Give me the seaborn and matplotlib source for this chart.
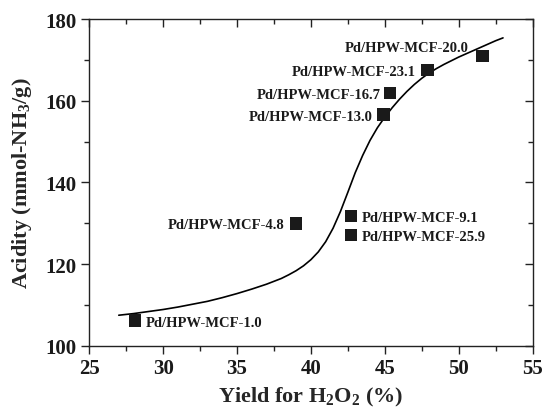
import matplotlib
matplotlib.use("Agg")
import matplotlib.pyplot as plt
import seaborn as sns
import pandas as pd
from matplotlib.ticker import MultipleLocator
from matplotlib.lines import TICKDOWN, TICKLEFT

# Catalyst samples: H2O2 yield (%) and acidity (mmol-NH3/g)
samples = ["Pd/HPW-MCF-1.0", "Pd/HPW-MCF-4.8", "Pd/HPW-MCF-9.1", "Pd/HPW-MCF-25.9",
           "Pd/HPW-MCF-13.0", "Pd/HPW-MCF-16.7", "Pd/HPW-MCF-23.1", "Pd/HPW-MCF-20.0"]
yield_h2o2 = [28.1, 39.0, 42.7, 42.7, 44.9, 45.35, 47.9, 51.6]
acidity = [106.2, 130.0, 131.8, 127.1, 156.6, 161.9, 167.6, 170.9]

# Trend curve through the data
curve_x = [27.0, 28.0, 29.0, 30.0, 31.0, 32.0, 33.0, 34.0, 35.0, 36.0, 37.0,
           37.5, 38.0, 38.5, 39.0, 39.5, 40.0, 40.5, 41.0, 41.5, 42.0, 42.5,
           43.0, 43.5, 44.0, 44.5, 45.0, 45.5, 46.0, 46.5, 47.0, 47.5, 48.0,
           48.5, 49.0, 49.5, 50.0, 50.5, 51.0, 51.5, 52.0, 52.5, 53.0]
curve_y = [107.5, 107.9, 108.4, 108.9, 109.5, 110.2, 110.9, 111.8, 112.8, 113.9, 115.1,
           115.8, 116.5, 117.4, 118.4, 119.6, 121.1, 123.0, 125.5, 128.8, 132.9, 137.6,
           142.4, 146.6, 150.3, 153.4, 156.0, 158.3, 160.4, 162.3, 164.0, 165.5, 166.8,
           167.9, 168.9, 169.8, 170.7, 171.5, 172.3, 173.1, 173.9, 174.7, 175.4]

# Label placement (pixel offsets from marker centre, alignment)
label_dx = [11, -12, 11, 11, -11, -9.5, -12, -14]
label_dy = [0, 0, 0, 0, 0, 0, 0, 10]
label_ha = ["left", "right", "left", "left", "right", "right", "right", "right"]

sns.set_theme(style="ticks")
plt.rcParams["font.family"] = ["Liberation Serif", "DejaVu Serif"]
plt.rcParams["font.weight"] = "bold"
plt.rcParams["mathtext.fontset"] = "custom"
plt.rcParams["mathtext.rm"] = "Liberation Serif:bold"
plt.rcParams["mathtext.bf"] = "Liberation Serif:bold"
plt.rcParams["mathtext.default"] = "bf"

points = pd.DataFrame({"yield": yield_h2o2, "acidity": acidity, "sample": samples})
trend = pd.DataFrame({"x": curve_x, "y": curve_y})

fig = plt.figure(figsize=(5.44, 4.10), dpi=100)
ax = fig.add_axes([0.164, 0.154, 0.815, 0.797])

sns.lineplot(data=trend, x="x", y="y", sort=False, estimator=None,
             color="black", linewidth=1.2, ax=ax)
ax.lines[-1].set_solid_joinstyle("round")
sns.scatterplot(data=points, x="yield", y="acidity", marker="s", s=80,
                color="#1a1a1a", edgecolor="none", ax=ax, zorder=3)

for xv, yv, name, dx, dy, ha in zip(yield_h2o2, acidity, samples,
                                    label_dx, label_dy, label_ha):
    ax.annotate(name, (xv, yv), xytext=(dx, dy), textcoords="offset pixels",
                ha=ha, va="center_baseline", fontsize=10.5, fontweight="bold",
                color="#1a1a1a")

ax.set_xlim(25, 55)
ax.set_ylim(100, 180)
ax.xaxis.set_major_locator(MultipleLocator(5))
ax.xaxis.set_minor_locator(MultipleLocator(2.5))
ax.yaxis.set_major_locator(MultipleLocator(20))
ax.yaxis.set_minor_locator(MultipleLocator(10))

ax.set_xlabel(r"Yield for H$_2$O$_2$ (%)", fontsize=16, fontweight="bold", labelpad=5)
ax.set_ylabel(r"Acidity (mmol-NH$_3$/g)", fontsize=16, fontweight="bold", labelpad=8)

for side in ["top", "right", "bottom", "left"]:
    ax.spines[side].set_visible(True)
    ax.spines[side].set_linewidth(1.0)
    ax.spines[side].set_color("#222222")

ax.tick_params(axis="both", which="major", direction="out", length=6, width=1.0,
               labelsize=15, color="#222222", labelcolor="#1a1a1a", pad=3)
ax.tick_params(axis="both", which="minor", direction="out", length=3.5, width=1.0,
               color="#222222")
ax.tick_params(axis="both", which="both", top=True, right=True)
for lab in ax.get_xticklabels() + ax.get_yticklabels():
    lab.set_fontweight("bold")

# mirrored ticks on top and right point inward
for t in ax.xaxis.get_major_ticks() + ax.xaxis.get_minor_ticks():
    t.tick2line.set_marker(TICKDOWN)
for t in ax.yaxis.get_major_ticks() + ax.yaxis.get_minor_ticks():
    t.tick2line.set_marker(TICKLEFT)

fig.savefig("out.png", dpi=100)
